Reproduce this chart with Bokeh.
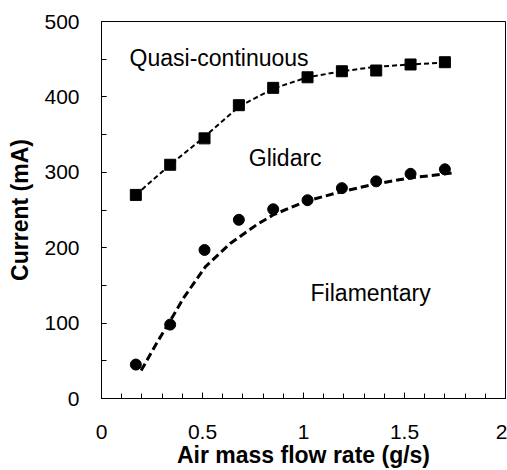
from bokeh.plotting import figure
from bokeh.models import Range1d, SingleIntervalTicker, ColumnDataSource
from bokeh.core.properties import value
from bokeh.embed import file_html
from bokeh.resources import INLINE

# ---- data ----
flow_rate = [0.17, 0.34, 0.51, 0.68, 0.85, 1.02, 1.19, 1.36, 1.53, 1.70]
current_quasi = [270, 310, 345, 389, 412, 426, 434, 435, 443, 446]
current_glidarc = [45, 98, 197, 237, 251, 263, 279, 288, 298, 304]

fit_upper_x = [0.17, 0.34, 0.51, 0.68, 0.85, 1.02, 1.19, 1.36, 1.53, 1.72]
fit_upper_y = [270, 310, 347, 387, 411, 426, 434, 440, 443, 446]

fit_lower_x = [0.196, 0.27, 0.342, 0.408, 0.515, 0.639, 0.771, 0.853, 1.018, 1.183, 1.348, 1.513, 1.736]
fit_lower_y = [37, 72, 104, 134, 175, 206, 231, 244, 262, 274, 284, 292, 299]

region_labels = ["Quasi-continuous", "Glidarc", "Filamentary"]
x_tick_labels = {0: "0", 0.5: "0.5", 1: "1", 1.5: "1.5", 2: "2"}
y_tick_labels = {0: "0", 100: "100", 200: "200", 300: "300", 400: "400", 500: "500"}

# ---- layout / style ----
label_x = [0.139, 0.729, 1.035]
label_y = [451, 319, 140]
FONT = "Liberation Sans"

p = figure(width=507, height=470, output_backend="svg", toolbar_location=None,
           x_range=Range1d(0, 2), y_range=Range1d(0, 500),
           min_border_left=101, min_border_right=2, min_border_top=21, min_border_bottom=71)
p.background_fill_color = "white"
p.border_fill_color = "white"
p.outline_line_color = "black"
p.outline_line_width = 1
p.xgrid.visible = False
p.ygrid.visible = False

p.xaxis.ticker = SingleIntervalTicker(interval=0.5, num_minor_ticks=5)
p.yaxis.ticker = SingleIntervalTicker(interval=100, num_minor_ticks=2)
p.xaxis.major_label_overrides = x_tick_labels
p.yaxis.major_label_overrides = y_tick_labels

for ax in (p.xaxis, p.yaxis):
    ax.axis_line_color = "black"
    ax.major_tick_out = 0
    ax.minor_tick_out = 0
    ax.minor_tick_in = 5
    ax.major_tick_line_color = "black"
    ax.minor_tick_line_color = "black"
    ax.major_label_text_font = FONT
    ax.major_label_text_font_size = "21px"
    ax.major_label_text_color = "black"
    ax.axis_label_text_font = FONT
    ax.axis_label_text_font_size = "23px"
    ax.axis_label_text_font_style = "bold"
    ax.axis_label_text_color = "black"

p.xaxis.major_tick_in = 6
p.yaxis.major_tick_in = 5
p.xaxis.axis_label = "Air mass flow rate (g/s)"
p.yaxis.axis_label = "Current (mA)"
p.xaxis.major_label_standoff = 26
p.xaxis.axis_label_standoff = 0
p.yaxis.major_label_standoff = 22
p.yaxis.axis_label_standoff = 8

# fitted curves
p.line(fit_upper_x, fit_upper_y, line_color="black", line_width=2, line_dash="5 3")
p.line(fit_lower_x, fit_lower_y, line_color="black", line_width=3, line_dash="8 4")

# data points
p.scatter(flow_rate, current_quasi, marker="square", size=11, color="black")
p.scatter(flow_rate, current_glidarc, marker="circle", size=11, color="black")

# region labels
src = ColumnDataSource(dict(x=label_x, y=label_y, t=region_labels))
p.text(x="x", y="y", text="t", source=src, text_font=value(FONT),
       text_font_size="23px", text_baseline="alphabetic", text_align="left",
       text_color="black")

open("out.html", "w").write(file_html(p, INLINE))
